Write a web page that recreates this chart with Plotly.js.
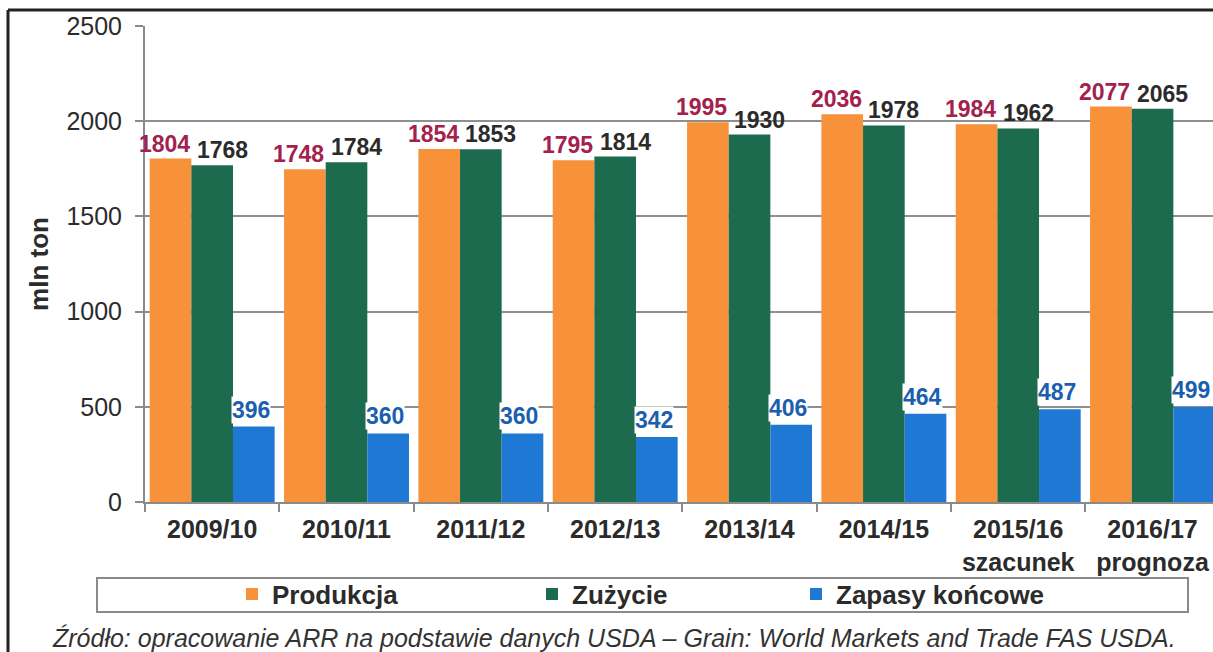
<!DOCTYPE html>
<html><head><meta charset="utf-8">
<script src="https://cdn.plot.ly/plotly-3.0.1.min.js"></script>
<style>html,body{margin:0;padding:0;background:#fff}#chart{width:1213px;height:652px}</style>
</head><body><div id="chart"></div>
<script>
const categories = ['2009/10','2010/11','2011/12','2012/13','2013/14','2014/15','2015/16<br>szacunek','2016/17<br>prognoza'];
const produkcja = [1804,1748,1854,1795,1995,2036,1984,2077];
const zuzycie = [1768,1784,1853,1814,1930,1978,1962,2065];
const zapasy = [396,360,360,342,406,464,487,499];
const seriesNames = ['Produkcja','Zużycie','Zapasy końcowe'];
const yTicks = [0,500,1000,1500,2000,2500];
const yTitle = 'mln ton';
const sourceText = 'Źródło: opracowanie ARR na podstawie danych USDA – Grain: World Markets and Trade FAS USDA.';

const FONT = 'Liberation Sans, Arial, sans-serif';
const W = 1213, H = 652, ML = 145, MR = 0, MT = 26, MB = 150;
const xRange = [-0.5, 7.45];
const bargap = 0.07;
const plotW = W - ML - MR, plotH = H - MT - MB;
const catPx = plotW / (xRange[1] - xRange[0]);
const barPx = catPx * (1 - bargap) / 3;
const LABEL_SIZE = 23;

const series = [produkcja, zuzycie, zapasy];
const barColors = ['#F7923B', '#1D6B4E', '#1E78D4'];
const labelColors = ['#A3214C', '#2b2b2b', '#1B5FAE'];
const labelExtraShift = [-6, 10, -3];
const legendIds = ['legend', 'legend2', 'legend3'];
const legendLeftPx = [232, 532, 796];

const traces = series.map((vals, i) => ({
  type: 'bar', name: seriesNames[i], x: categories, y: vals,
  legend: legendIds[i],
  marker: {color: barColors[i], line: {width: 0}},
  hoverinfo: 'x+y'
}));

const annotations = [];
series.forEach((vals, s) => {
  vals.forEach((v, k) => {
    let shift = (s - 1) * barPx + labelExtraShift[s];
    // keep label inside the page at the right edge
    const centerPx = ML + (k - xRange[0]) * catPx + shift;
    const halfW = String(v).length * 0.556 * LABEL_SIZE / 2 + 2;
    if (centerPx + halfW > W) shift -= (centerPx + halfW - W);
    annotations.push({
      x: categories[k], y: v, xref: 'x', yref: 'y',
      text: String(v), showarrow: false,
      xanchor: 'center', yanchor: 'bottom',
      xshift: shift, yshift: s === 2 ? 3 : 1,
      bgcolor: s === 2 ? '#ffffff' : 'rgba(0,0,0,0)',
      borderpad: 0,
      font: {family: FONT, size: LABEL_SIZE, weight: 'bold', color: labelColors[s]}
    });
  });
});
const px2x = p => (p - ML) / plotW;
const py2y = p => (H - MB - p) / plotH;
annotations.push({
  xref: 'paper', yref: 'paper', x: px2x(50), y: py2y(638), xanchor: 'left', yanchor: 'middle',
  text: sourceText, showarrow: false,
  font: {family: FONT, size: 25, style: 'italic', color: '#333'}
});

const shapes = [
  {type: 'rect', xref: 'paper', yref: 'paper', x0: px2x(97), x1: px2x(1188), y0: py2y(612), y1: py2y(578),
   line: {color: '#8a8a8a', width: 2}, fillcolor: 'rgba(0,0,0,0)', layer: 'below'},
  {type: 'line', xref: 'paper', yref: 'paper', x0: px2x(8), x1: px2x(8), y0: py2y(10), y1: py2y(660),
   line: {color: '#222', width: 3}},
  {type: 'line', xref: 'paper', yref: 'paper', x0: px2x(8), x1: px2x(1220), y0: py2y(10), y1: py2y(10),
   line: {color: '#222', width: 3}}
];

const layout = {
  width: W, height: H,
  margin: {l: ML, r: MR, t: MT, b: MB, pad: 0},
  paper_bgcolor: '#fff', plot_bgcolor: '#fff',
  barmode: 'group', bargap: bargap, bargroupgap: 0,
  font: {family: FONT, color: '#2b2b2b'},
  showlegend: true,
  xaxis: {
    type: 'category', range: xRange, tickson: 'boundaries',
    ticks: 'outside', ticklen: 8, tickwidth: 2, tickcolor: '#8a8a8a',
    showline: true, linecolor: '#8a8a8a', linewidth: 2,
    showgrid: false, ticklabelstandoff: 4,
    tickfont: {family: FONT, size: 25, weight: 'bold', color: '#2b2b2b'}
  },
  yaxis: {
    range: [0, 2500], tickvals: yTicks, ticktext: yTicks.map(String),
    ticks: 'outside', ticklen: 8, tickwidth: 2, tickcolor: '#8a8a8a',
    showline: true, linecolor: '#8a8a8a', linewidth: 2,
    showgrid: true, gridcolor: '#8f8f8f', gridwidth: 2, zeroline: false,
    ticklabelstandoff: 8,
    tickfont: {family: FONT, size: 25, color: '#2b2b2b'},
    title: {text: yTitle, standoff: 10, font: {family: FONT, size: 26, weight: 'bold', color: '#2b2b2b'}}
  },
  annotations: annotations,
  shapes: shapes
};
legendIds.forEach((id, i) => {
  layout[id] = {
    orientation: 'h', xref: 'container', yref: 'container',
    x: legendLeftPx[i] / W, y: 1 - 594 / H, xanchor: 'left', yanchor: 'middle',
    itemwidth: 30, bgcolor: 'rgba(0,0,0,0)', borderwidth: 0,
    font: {family: FONT, size: 26, weight: 'bold', color: '#2b2b2b'},
    itemclick: false, itemdoubleclick: false
  };
});

Plotly.newPlot('chart', traces, layout, {displayModeBar: false, staticPlot: true});
</script></body></html>
